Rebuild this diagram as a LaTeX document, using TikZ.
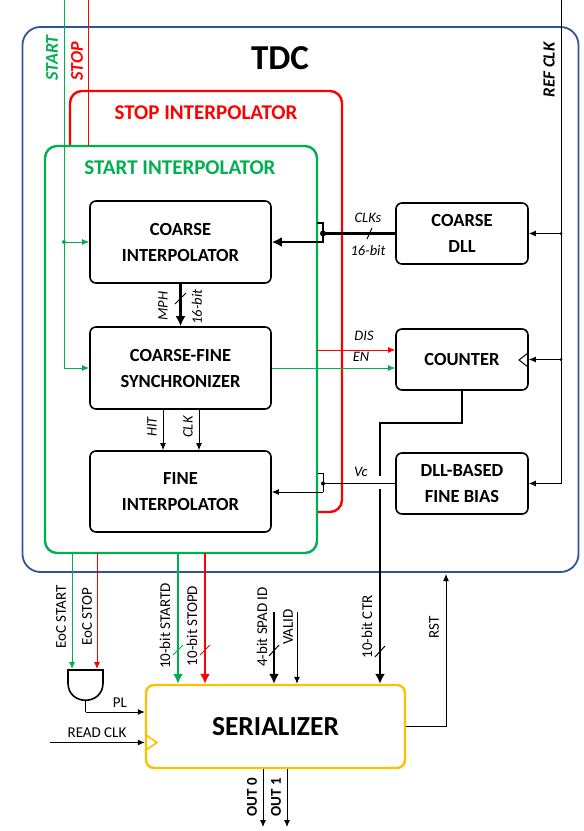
\documentclass[tikz,border=0pt]{standalone}
\usepackage{fontspec}
\setmainfont{Carlito}
\usetikzlibrary{arrows.meta}
\definecolor{tdcblue}{HTML}{2F5597}
\definecolor{gr}{HTML}{00B050}
\definecolor{rd}{HTML}{FF0000}
\definecolor{yl}{HTML}{FFC000}
\begin{document}
\begin{tikzpicture}[x=1pt,y=-1pt,
  blk/.style={draw, line width=1.6pt, rounded corners=6pt, fill=white, align=center,
    font=\fontsize{18.5}{26}\selectfont\bfseries, inner sep=0pt},
  thinl/.style={line width=1pt},
  tarr/.style={-{Latex[length=7pt,width=6pt]}},
  bus/.style={line width=2.8pt},
  barr/.style={-{Latex[length=10pt,width=10pt]}},
  ilbl/.style={font=\fontsize{14.5}{16}\selectfont\itshape, inner sep=0pt},
  rlbl/.style={font=\fontsize{15}{17}\selectfont, inner sep=0pt},
  dotc/.style={circle, fill, inner sep=0pt, minimum size=4.5pt}]
\useasboundingbox (0,0) rectangle (584,831);
% big frames
\node[draw=tdcblue, line width=1.8pt, rounded corners=18pt, minimum width=556pt, minimum height=545pt, inner sep=0pt] (tdc) at (300.5,299.5) {};
\node[font=\fontsize{35}{40}\selectfont\bfseries] (tdclbl) at (280,58) {TDC};
\node[draw=rd, fill=white, line width=2.4pt, rounded corners=12pt, minimum width=272pt, minimum height=421pt, inner sep=0pt] (stopi) at (206,301.5) {};
\node[text=rd, font=\fontsize{21}{24}\selectfont\bfseries, inner sep=0pt] (stoplbl) at (206,113) {STOP INTERPOLATOR};
\node[draw=gr, fill=white, line width=2.4pt, rounded corners=12pt, minimum width=272pt, minimum height=407pt, inner sep=0pt] (starti) at (181,349.5) {};
\node[text=gr, font=\fontsize{21}{24}\selectfont\bfseries, inner sep=0pt] (startlbl) at (180,168) {START INTERPOLATOR};
% blocks
\node[blk, minimum width=181pt, minimum height=82pt] (ci) at (180.5,242) {COARSE\\INTERPOLATOR};
\node[blk, minimum width=181pt, minimum height=82pt] (sync) at (180.5,368) {COARSE-FINE\\SYNCHRONIZER};
\node[blk, minimum width=181pt, minimum height=81pt] (fi) at (180.5,491.5) {FINE\\INTERPOLATOR};
\node[blk, minimum width=132pt, minimum height=61pt] (dll) at (462,233.5) {COARSE\\DLL};
\node[blk, minimum width=132pt, minimum height=61pt] (cnt) at (462,359.5) {COUNTER};
\node[blk, minimum width=132pt, minimum height=61pt] (fb) at (462,483.5) {DLL-BASED\\FINE BIAS};
\node[draw=yl, fill=white, line width=2.4pt, rounded corners=8pt, minimum width=259pt, minimum height=83pt, inner sep=0pt,
  font=\fontsize{27.5}{30}\selectfont\bfseries] (ser) at (275.5,726.5) {SERIALIZER};
% clock triangles
\draw[thinl] (528,353) -- (519,360) -- (528,367);
\draw[yl, line width=1.6pt] (146,735) -- (157,742.5) -- (146,750);
% START / STOP inputs
\coordinate (stTop) at (64,0);
\coordinate (stBr) at (64,242);
\coordinate (stEnd) at (64,368);
\coordinate (spTop) at (88,0);
\coordinate (spEnd) at (88,146);
\draw[gr, thinl] (stTop) -- (stEnd);
\draw[gr, thinl, tarr] (stEnd) -- (sync.west);
\draw[gr, thinl, tarr] (stBr) -- (ci.west);
\node[dotc, gr, minimum size=4pt] (stdot) at (stBr) {};
\draw[rd, thinl] (spTop) -- (spEnd);
\node[text=gr, rotate=90, font=\fontsize{18}{20}\selectfont\bfseries\itshape, inner sep=0pt] (stlbl) at (52,58) {START};
\node[text=rd, rotate=90, font=\fontsize{18}{20}\selectfont\bfseries\itshape, inner sep=0pt] (splbl) at (77,61) {STOP};
% REF CLK
\coordinate (rcTop) at (561,0);
\coordinate (rcA) at (561,233.5);
\coordinate (rcB) at (561,359.5);
\coordinate (rcC) at (561,483.5);
\draw[thinl] (rcTop) -- (rcC);
\draw[thinl, tarr] (rcC) -- (fb.east);
\draw[thinl, tarr] (rcA) -- (dll.east);
\draw[thinl, tarr] (rcB) -- (cnt.east);
\node[dotc, minimum size=3pt] (rcdA) at (rcA) {};
\node[dotc, minimum size=3pt] (rcdB) at (rcB) {};
\node[rotate=90, font=\fontsize{17}{19}\selectfont\bfseries\itshape, inner sep=0pt] (rclbl) at (549,70) {REF CLK};
% CLKs bus
\coordinate (ck1) at (323,233.5);
\coordinate (ck2) at (318,223);
\coordinate (ck3) at (323,223);
\coordinate (ck4) at (323,242);
\draw[bus] (dll.west) -- (ck1);
\draw[bus, line cap=rect] (ck2) -- (ck3) -- (ck4);
\draw[bus, barr] (ck4) -- (ci.east);
\node[dotc, minimum size=6pt] (ckdot) at (ck1) {};
\draw[line width=1pt] (367,239) -- (372,228);
\node[ilbl] (clkslbl) at (368,218) {CLKs};
\node[ilbl] (b16lbl) at (368,251) {16-bit};
% MPH bus
\draw[bus, barr] (ci.south) -- (sync.north);
\draw[line width=1pt] (175,304) -- (186,293);
\node[ilbl, rotate=90] (mphlbl) at (163,306) {MPH};
\node[ilbl, rotate=90] (m16lbl) at (197,307) {16-bit};
% HIT / CLK
\draw[thinl, tarr] (sync.south -| 163,0) -- (fi.north -| 163,0);
\draw[thinl, tarr] (sync.south -| 199,0) -- (fi.north -| 199,0);
\node[ilbl, rotate=90] (hitlbl) at (152,427) {HIT};
\node[ilbl, rotate=90] (clklbl) at (188,427) {CLK};
% DIS / EN
\coordinate (disS) at (317,350);
\draw[rd, thinl, tarr] (disS) -- (cnt.west |- disS);
\draw[gr, thinl, tarr] (sync.east) -- (cnt.west |- sync.east);
\node[ilbl] (dislbl) at (364,336) {DIS};
\node[ilbl] (enlbl) at (361,357) {EN};
% CTR bus
\coordinate (ct1) at (462,423);
\coordinate (ct2) at (380,423);
\coordinate (ct3) at (380,476);
\coordinate (ct4) at (380,489);
\draw[bus] (cnt.south) -- (ct1) -- (ct2) -- (ct3);
\draw[bus, barr] (ct4) -- (ser.north -| ct4);
\draw[line width=1pt] (375,657) -- (385,646);
\node[rlbl, rotate=90] (ctrlbl) at (367,627) {10-bit CTR};
% Vc
\coordinate (vc1) at (323,483.5);
\coordinate (vc2) at (318,473);
\coordinate (vc3) at (323,473);
\coordinate (vc4) at (323,492);
\draw[thinl] (fb.west) -- (vc1);
\draw[thinl] (vc2) -- (vc3) -- (vc4);
\draw[thinl, tarr] (vc4) -- (fi.east |- vc4);
\node[dotc, minimum size=4pt] (vcdot) at (vc1) {};
\node[ilbl] (vclbl) at (361,472) {Vc};
% bottom signals
\coordinate (eS) at (72,553);
\coordinate (eSe) at (72,669);
\coordinate (eP) at (97,553);
\coordinate (ePe) at (97,669);
\draw[gr, thinl, tarr] (eS) -- (eSe);
\draw[rd, thinl, tarr] (eP) -- (ePe);
\node[rlbl, rotate=90] (eslbl) at (61,617) {EoC START};
\node[rlbl, rotate=90] (eplbl) at (87,617) {EoC STOP};
% AND gate
\draw[line width=1.6pt, fill=white] (68,670) -- (103,670) -- (103,683) .. controls (103,706) and (68,706) .. (68,683) -- cycle;
\coordinate (gOut) at (85.5,700.5);
\coordinate (gC) at (85.5,712);
\draw[thinl] (gOut) -- (gC);
\draw[thinl, tarr] (gC) -- (ser.west |- gC);
\node[rlbl] (pllbl) at (120,703) {PL};
\coordinate (rcS) at (50,742.5);
\draw[thinl, tarr] (rcS) -- (ser.west |- rcS);
\node[rlbl] (rdlbl) at (97,733) {READ CLK};
% STARTD / STOPD
\coordinate (sd) at (178,553);
\coordinate (pd) at (205,553);
\draw[gr, bus, barr] (sd) -- (ser.north -| sd);
\draw[rd, bus, barr] (pd) -- (ser.north -| pd);
\draw[gr, line width=1pt] (173,655) -- (183,645);
\draw[rd, line width=1pt] (200,655) -- (210,645);
\node[rlbl, rotate=90] (sdlbl) at (165,626) {10-bit STARTD};
\node[rlbl, rotate=90] (pdlbl) at (192,626) {10-bit STOPD};
% SPAD ID / VALID
\coordinate (sp) at (274,612);
\coordinate (vl) at (297,612);
\draw[bus, barr] (sp) -- (ser.north -| sp);
\draw[thinl, tarr] (vl) -- (ser.north -| vl);
\draw[line width=1pt] (269,656) -- (279,645);
\node[rlbl, rotate=90] (splbl2) at (262,627) {4-bit SPAD ID};
\node[rlbl, rotate=90] (vllbl) at (288,627) {VALID};
% RST
\coordinate (rs1) at (446,726.5);
\coordinate (rs2) at (446,574);
\draw[thinl] (ser.east) -- (rs1);
\draw[thinl, tarr] (rs1) -- (rs2);
\node[rlbl, rotate=90] (rstlbl) at (434,627) {RST};
% OUT
\coordinate (o0) at (263,827);
\coordinate (o1) at (287,827);
\draw[thinl, tarr] (ser.south -| o0) -- (o0);
\draw[thinl, tarr] (ser.south -| o1) -- (o1);
\node[rotate=90, font=\fontsize{15}{17}\selectfont\bfseries, inner sep=0pt] (o0lbl) at (252,797) {OUT 0};
\node[rotate=90, font=\fontsize{15}{17}\selectfont\bfseries, inner sep=0pt] (o1lbl) at (276,797) {OUT 1};
\end{tikzpicture}
\end{document}
